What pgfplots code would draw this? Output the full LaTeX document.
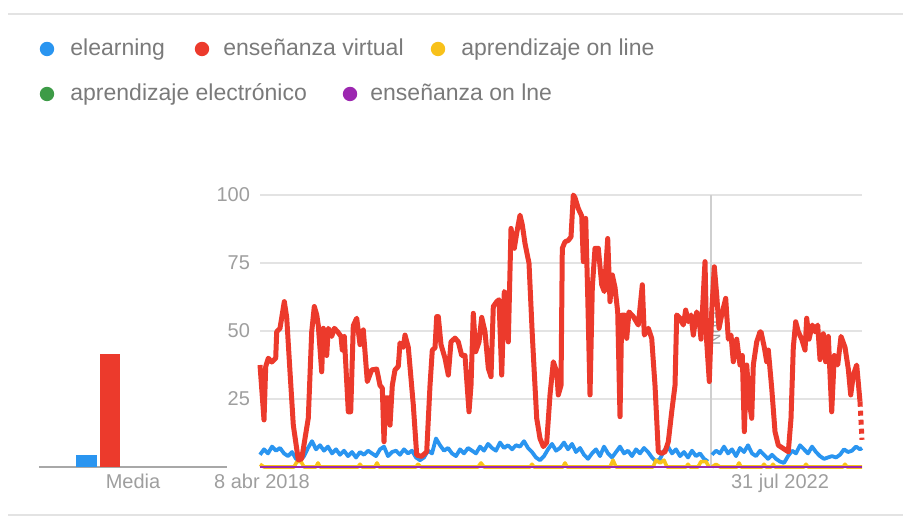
\documentclass[border=0pt]{standalone}
\usepackage{pgfplots}
\pgfplotsset{compat=1.18}
\usepackage{fontspec}
\setmainfont{Liberation Sans}
\definecolor{blueL}{HTML}{2A95F0}
\definecolor{redL}{HTML}{EC3A2C}
\definecolor{yelL}{HTML}{F8C11A}
\definecolor{greL}{HTML}{3D9B47}
\definecolor{purL}{HTML}{9C27B0}
\definecolor{gridc}{HTML}{E3E3E3}
\definecolor{tickc}{HTML}{9E9E9E}
\definecolor{legc}{HTML}{7A7A7A}
\definecolor{basec}{HTML}{A8A8A8}
\definecolor{vlinec}{HTML}{CFCFCF}
\begin{document}
\begin{tikzpicture}
% frame lines
\draw[gridc, line width=1pt] (4pt,255.5pt) -- (451.5pt,255.5pt);
\draw[gridc, line width=1pt] (4pt,5pt) -- (451.5pt,5pt);
% legend
\fill[blueL] (23.5pt,238pt) circle (3.6pt);
\node[anchor=base west, inner sep=0, text=legc, font=\fontsize{11.5}{13}\selectfont] at (35pt,234.6pt) {elearning};
\fill[redL] (101pt,238pt) circle (3.6pt);
\node[anchor=base west, inner sep=0, text=legc, font=\fontsize{11.5}{13}\selectfont] at (111.5pt,234.6pt) {enseñanza virtual};
\fill[yelL] (219pt,238pt) circle (3.6pt);
\node[anchor=base west, inner sep=0, text=legc, font=\fontsize{11.5}{13}\selectfont] at (230.5pt,234.6pt) {aprendizaje on line};
\fill[greL] (23.5pt,215.5pt) circle (3.6pt);
\node[anchor=base west, inner sep=0, text=legc, font=\fontsize{11.5}{13}\selectfont] at (35pt,212.1pt) {aprendizaje electrónico};
\fill[purL] (175pt,215.5pt) circle (3.6pt);
\node[anchor=base west, inner sep=0, text=legc, font=\fontsize{11.5}{13}\selectfont] at (185pt,212.1pt) {enseñanza on lne};

% average bars
\begin{axis}[
  at={(19.5pt,29pt)}, anchor=south west, scale only axis,
  width=94pt, height=136pt,
  xmin=0, xmax=188, ymin=0, ymax=100,
  axis line style={draw=none}, tick style={draw=none},
  ytick=\empty, xtick={94}, xticklabels={Media},
  xticklabel style={font=\fontsize{10}{12}\selectfont, text=tickc},
  clip=false,
]
\draw[basec, line width=1pt] (axis cs:0,0) -- (axis cs:188,0);
\addplot[ybar, bar width=10.5pt, bar shift=0pt, fill=blueL, draw=none] coordinates {(47.5,4.4)};
\addplot[ybar, bar width=10pt, bar shift=0pt, fill=redL, draw=none] coordinates {(71,41.5)};
\end{axis}

% main chart
\begin{axis}[
  at={(130pt,29pt)}, anchor=south west, scale only axis,
  width=301pt, height=136pt,
  xmin=0, xmax=602, ymin=0, ymax=100,
  axis line style={draw=none}, tick style={draw=none},
  ytick={25,50,75,100}, ymajorgrids,
  grid style={draw=gridc, line width=0.7pt},
  xtick={2,520}, xticklabels={8 abr 2018,31 jul 2022},
  ticklabel style={font=\fontsize{10}{12}\selectfont, text=tickc},
  yticklabel style={xshift=-1.5pt},
  /pgf/number format/assume math mode=true,
  clip=false,
]
\draw[vlinec, line width=0.7pt] (axis cs:451,0) -- (axis cs:451,100);
\node[rotate=90, text=tickc, font=\fontsize{8}{9}\selectfont] at (axis cs:455,51) {Nota};
% elearning
\addplot[blueL, line width=1.9pt, line join=round] coordinates {
(0,4.5)(4,6.5)(8,5)(12,7.5)(16,6)(20,7)(24,5)(28,4)(32,5.5)(36,3)(40,2.5)(44,4)(48,7)(52,9.5)(56,6.5)(60,8)(64,6)(68,7.5)(72,5)(76,6.5)(80,4.5)(84,6)(88,4)(92,5.5)(96,3.5)(100,5.5)(104,4.5)(108,6)(112,5)(116,4)(120,6.5)(124,7.5)(128,4)(132,5.5)(136,6)(140,4.5)(144,6.5)(148,5)(152,6)(156,3.5)(160,2.5)(164,3.5)(168,6)(172,5)(176,10.5)(180,8)(184,6)(188,7)(192,5)(196,4)(200,6.5)(204,5)(208,7)(212,6)(216,5)(220,7.5)(224,6)(228,8.5)(232,7)(236,6)(240,9)(244,7)(248,8)(252,6.5)(256,8)(260,7.5)(264,9.5)(268,7)(272,5.5)(276,3.5)(280,2.5)(284,4)(288,6.5)(292,8.5)(296,6)(300,7)(304,9)(308,6.5)(312,8.5)(316,5.5)(320,7)(324,4.5)(328,3)(332,5)(336,6.5)(340,4)(344,7.5)(348,5)(352,3.5)(356,5.5)(360,7.5)(364,5)(368,6)(372,4)(376,6.5)(380,5)(384,7)(388,5.5)(392,3.5)(396,2)(400,3)(404,6)(408,7.5)(412,5)(416,6.5)(420,4)(424,5.5)(428,3.5)(432,6)(436,4)(440,5)(444,3)(448,2)
};
\addplot[blueL, line width=1.9pt, line join=round] coordinates {
(452,4.5)(456,6)(460,5)(464,7.5)(468,5)(472,6.5)(476,4)(480,7)(484,5.5)(488,8)(492,5)(496,4)(500,6)(504,4.5)(508,3)(512,4.5)(516,3)(520,2)(524,1.5)(528,4)(532,6)(536,5)(540,8)(544,6.5)(548,5)(552,7.5)(556,5.5)(560,4)(564,3)(568,3.5)(572,4)(576,3.5)(580,4.5)(584,6.5)(588,5.5)(592,6)(596,7.5)(600,6.5)(602,7)
};
% aprendizaje on line
\addplot[yelL, line width=1.8pt, line join=round] coordinates {
(0,1)(4,0)(34,0)(37,2)(41,2)(44,0)(56,0)(58,1.5)(60,0)(98,0)(100,1)(102,0)(115,0)(117,1.5)(119,0)(156,0)(158,1)(161,0)(218,0)(221,1.5)(224,0)(270,0)(272,1)(274,0)(303,0)(305,1.5)(307,0)(350,0)(353,2.5)(356,0)(393,0)(396,2.5)(400,1.5)(404,2.5)(407,0)(426,0)(428,1)(430,0)(438,0)(441,2)(446,2)(449,0)
};
\addplot[yelL, line width=1.8pt, line join=round] coordinates {
(452,0)(456,1)(460,0)(477,0)(479,1.5)(481,0)(502,0)(504,1)(506,0)(511,0)(513,1)(515,0)(544,0)(546,1)(548,0)(583,0)(585,1)(587,0)(602,0)
};
% aprendizaje electronico
\addplot[greL, line width=1.2pt] coordinates {(0,0)(602,0)};
% ensenanza virtual
\addplot[redL, line width=2.5pt, line join=round] coordinates {
(0,37.5)(4,17.3)(5.7,36.9)(8.3,40)(11.7,38.6)(15.7,40)(16.7,49.7)(20,51)(24.3,60.8)(26.7,55)(30,35)(33.3,15.4)(38.3,2.6)(41.7,3)(48.3,18)(51.7,49.7)(54.3,59)(56.7,56)(58.3,52)(61.7,35)(63.3,51)(66.7,41)(68.3,51)(71.7,48)(74.3,51)(77.7,49.7)(81,48)(82.3,43)(84.3,48)(88.3,20.3)(90.7,20.3)(93.3,52)(96.7,54.7)(100,45)(103.3,50.4)(107.3,31.4)(111.7,35.7)(116.7,36)(120,30)(122.3,29)(124,9.3)(125.7,25.4)(128.3,25.4)(130,15.4)(132.3,30)(135,35.7)(138.3,37)(140,45.6)(143.3,44)(145,48.5)(148.3,44)(153.3,22.8)(156.7,4.4)(161.7,3.9)(166.7,5.6)(170,30)(172.3,43)(175,43.8)(176.7,55.3)(178.3,55.3)(181,45)(185,40)(188.3,33.8)(191,46)(195,47.4)(198.3,46)(201.7,41)(205,41)(209,20.3)(211,30)(213.3,56.5)(215.7,42.4)(219,46)(221.7,55)(225,49.7)(228.3,36.3)(231,33.2)(233.3,59)(236.7,60.8)(239,61.5)(241.7,33.8)(244.3,64.5)(246.7,63)(248.3,46)(251,87.7)(254.3,80.4)(256.7,86)(260,92.6)(262.3,89)(265,82.2)(269,74.9)(272.3,48.5)(276.7,17.9)(280,10.5)(283.3,7.5)(286.7,9)(290,26.5)(293.3,38.7)(296.7,35)(298.3,26.5)(301,30)(302.3,80.4)(305,82.8)(308.3,83.3)(311,84.6)(313.3,100)(315,99)(318.3,95)(321.7,92.3)(323.3,75.5)(325.7,91.4)(327.7,63.2)(330,26.5)(332.3,66)(335,80.4)(338.3,80.4)(341.7,67)(344.3,64.5)(347.7,84)(350,60.8)(352.3,70.6)(355,66)(357.7,57)(360,18.5)(361.7,55.8)(365,55.8)(366.7,47.3)(369,57)(373.3,55.3)(378.3,52.2)(382.3,67)(384.3,48.5)(388.3,51)(391.7,47.3)(395,30)(398.3,5.6)(401.7,5)(405,5.6)(408.3,9.3)(411.7,20.3)(415,30)(416.7,55.9)(420,54.7)(423.3,52.2)(425.7,57.7)(428.3,53.4)(431,55.9)(433.3,48.5)(436.7,57)(439,54.7)(441,47)(442.3,56.5)(445,75.5)(446.7,46)(449.3,31.4)(451.7,57)(454.3,73.6)(456.7,63.2)(459,51)(461.7,55.9)(465.7,62)(468.3,47)(471,48.5)(473.3,38.7)(476.7,47)(480,37.5)(482.3,41)(484.3,13)(486.7,37.5)(489.3,24)(491.7,17.9)(493.3,37.5)(496.7,46)(500,49.7)(501,49.7)(504.3,44)(506.7,38.7)(508.3,43)(511.7,29)(515,13)(518.3,8)(523.3,6.8)(528.3,5.6)(531,17.9)(533.3,44)(535.7,53.4)(538.3,49.7)(541.7,47)(545,43)(546.7,54.7)(549,47)(552.3,52.2)(555,49.7)(557.7,52.2)(560,39.5)(563.3,49)(565.7,38.7)(568.3,48)(571.7,20.3)(574.3,41)(577.7,37.5)(581,48)(585,44)(588.3,36)(590.7,26.5)(593.3,33.8)(596.7,37.5)(600,24)
};
\addplot[redL, line width=2.5pt, dotted] coordinates {(600,24)(602,10)};
% ensenanza on lne
\addplot[purL, line width=1.2pt] coordinates {(0,0)(602,0)};
\end{axis}
\pgfresetboundingbox
\useasboundingbox (0pt,0pt) rectangle (451.5pt,262.5pt);
\end{tikzpicture}
\end{document}
